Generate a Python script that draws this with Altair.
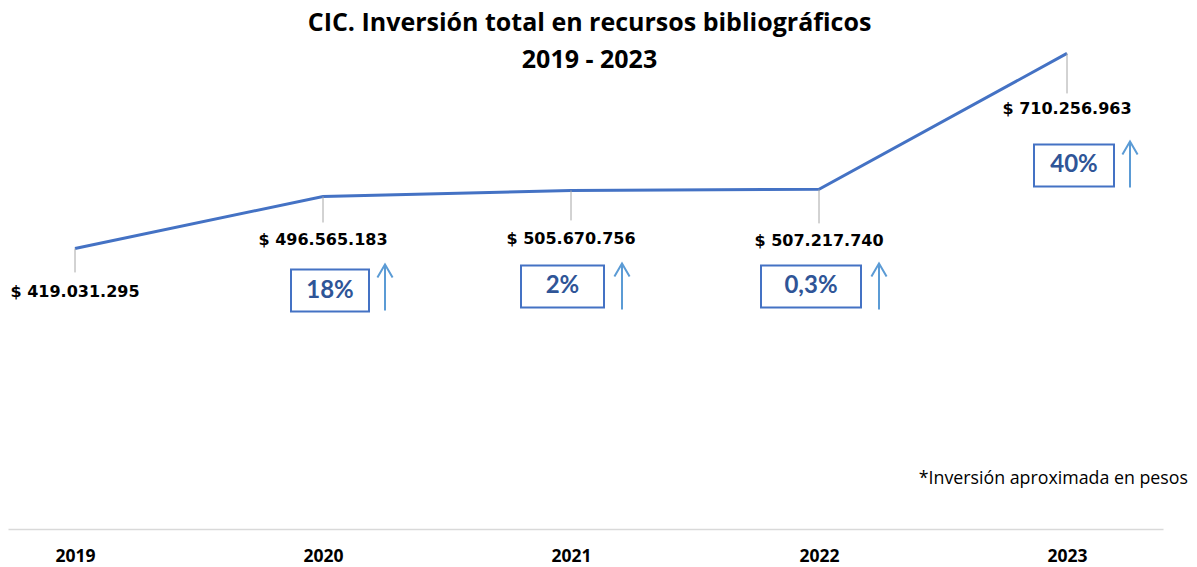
import altair as alt
import pandas as pd

# ---------------- data ----------------
years = [2019, 2020, 2021, 2022, 2023]
investment = [419031295, 496565183, 505670756, 507217740, 710256963]
value_labels = ["$ 419.031.295", "$ 496.565.183", "$ 505.670.756",
                "$ 507.217.740", "$ 710.256.963"]
growth_years = [2020, 2021, 2022, 2023]
growth_labels = ["18%", "2%", "0,3%", "40%"]

title_lines = ["CIC. Inversión total en recursos bibliográficos", "2019 - 2023"]
footnote = "*Inversión aproximada en pesos"

# ---------------- layout (pixels) ----------------
W = 1155
H = 453
PX_PER_YEAR = 248.0
PX_PER_PESO = 195.0 / (710256963 - 419031295)
X0 = 2019 - 67 / PX_PER_YEAR
x_dom = [X0, X0 + W / PX_PER_YEAR]
y_dom = [0, H / PX_PER_PESO]

label_dy = [44, 43, 49, 52, 56]
leader_len = [24, 26, 30, 34, 40]
box_dx = [7, -8.5, -8, 7]
box_dy = [94, 96, 97, 112]
box_w = [78, 83, 100, 80]
box_h = 42
arrow_dx = [62, 51, 60, 63]
arrow_dy = [91, 96, 97, 111]
arrow_h = 46
arrow_path = "M0,1L0,-1M-0.33,-0.43L0,-1L0.33,-0.43"

line_df = pd.DataFrame({
    "year": years,
    "value": investment,
    "label": value_labels,
})
line_df["label_y"] = [v - d / PX_PER_PESO for v, d in zip(investment, label_dy)]
line_df["leader_end"] = [v - d / PX_PER_PESO for v, d in zip(investment, leader_len)]

gval = [investment[years.index(y)] for y in growth_years]
growth_df = pd.DataFrame({"year": growth_years, "value": gval, "pct": growth_labels})
growth_df["box_x"] = [y + d / PX_PER_YEAR for y, d in zip(growth_years, box_dx)]
growth_df["box_y"] = [v - d / PX_PER_PESO for v, d in zip(gval, box_dy)]
growth_df["box_shape"] = [
    f"M-1,-{box_h / w:.4f}L1,-{box_h / w:.4f}L1,{box_h / w:.4f}L-1,{box_h / w:.4f}Z"
    for w in box_w
]
growth_df["box_size"] = [w * w for w in box_w]
growth_df["arrow_x"] = [y + d / PX_PER_YEAR for y, d in zip(growth_years, arrow_dx)]
growth_df["arrow_y"] = [v - d / PX_PER_PESO for v, d in zip(gval, arrow_dy)]
growth_df["arrow_shape"] = arrow_path
growth_df["arrow_size"] = arrow_h * arrow_h

xscale = alt.Scale(domain=x_dom, nice=False, zero=False)
yscale = alt.Scale(domain=y_dom, nice=False, zero=False)
xaxis = alt.Axis(values=years, format="d", title=None, ticks=False, grid=False,
                 labelFont="Open Sans", labelFontWeight="bold", labelFontSize=17.5,
                 labelColor="black", labelPadding=18, labelFlush=False,
                 labelOverlap=False, domainColor="#d9d9d9", domainWidth=1.5)

base = alt.Chart(line_df)

line = base.mark_line(color="#4472c4", strokeWidth=3).encode(
    x=alt.X("year:Q", scale=xscale, axis=xaxis),
    y=alt.Y("value:Q", scale=yscale, axis=None),
)

leaders = base.mark_rule(color="#a6a6a6", strokeWidth=1).encode(
    x="year:Q", y="value:Q", y2="leader_end:Q"
)

value_text = base.mark_text(font="DejaVu Sans", fontWeight="bold", fontSize=16,
                            color="black", baseline="middle").encode(
    x="year:Q", y="label_y:Q", text="label:N"
)

gbase = alt.Chart(growth_df)

boxes = gbase.mark_point(filled=False, stroke="#4472c4", strokeWidth=2,
                         opacity=1).encode(
    x="box_x:Q", y="box_y:Q",
    shape=alt.Shape("box_shape:N", scale=None),
    size=alt.Size("box_size:Q", scale=None),
)

pct_text = gbase.mark_text(font="Lato", fontWeight="bold", fontSize=24,
                           color="#2f5597", baseline="middle").encode(
    x="box_x:Q", y="box_y:Q", text="pct:N"
)

arrows = gbase.mark_point(filled=False, stroke="#5b9bd5", strokeWidth=2,
                          opacity=1).encode(
    x="arrow_x:Q", y="arrow_y:Q",
    shape=alt.Shape("arrow_shape:N", scale=None),
    size=alt.Size("arrow_size:Q", scale=None),
)

note = alt.Chart(pd.DataFrame({"t": [footnote]})).mark_text(
    font="Open Sans", fontSize=17.8, color="black", align="right", baseline="middle"
).encode(x=alt.value(W + 25), y=alt.value(H - 50), text="t:N")

chart = alt.layer(line, leaders, value_text, boxes, pct_text, arrows, note).properties(
    width=W, height=H,
    padding={"top": 3, "left": 0, "right": 0, "bottom": 0},
    title=alt.TitleParams(text=title_lines, font="Open Sans", fontSize=25,
                          fontWeight="bold", color="black", lineHeight=37,
                          anchor="middle", offset=-24, dx=4, dy=2),
).configure(background="white").configure_view(stroke=None)

chart.save("out.html", embed_options={"renderer": "svg", "actions": False})
